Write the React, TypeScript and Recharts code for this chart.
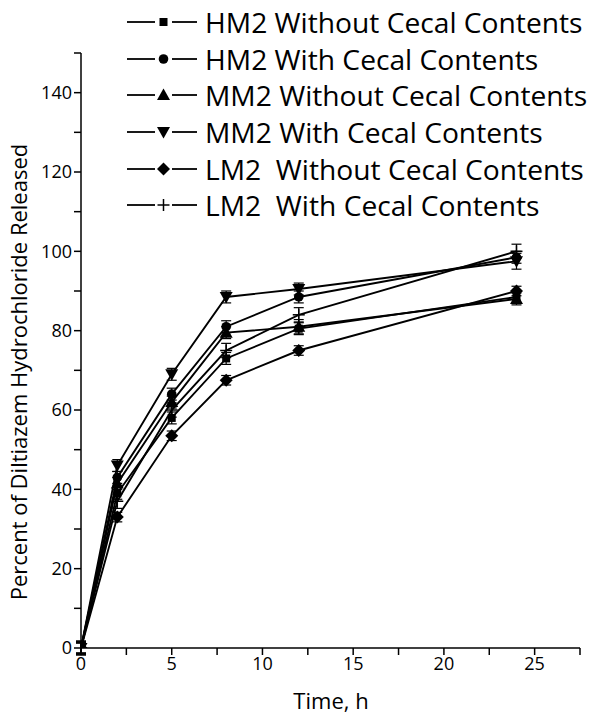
import React from 'react';
import { LineChart, Line, XAxis, YAxis, ErrorBar, Legend } from 'recharts';

const time = [0, 2, 5, 8, 12, 24];
const hm2Without = [0, 39, 58, 73, 80.5, 88.5];
const hm2With = [0, 43, 64, 81, 88.5, 98.5];
const mm2Without = [0, 41.5, 62, 79.5, 81, 88];
const mm2With = [0, 46, 69, 88.5, 90.5, 97.5];
const lm2Without = [0, 33, 53.5, 67.5, 75, 90];
const lm2With = [0, 37, 60, 75, 84, 100];

const hm2WithoutErr = [1.5, 1.5, 1.5, 1.5, 1.5, 1.5];
const hm2WithErr = [1.5, 1.5, 1.5, 1.5, 1.5, 1.5];
const mm2WithoutErr = [1.5, 1.5, 1.5, 1.5, 1.8, 1.5];
const mm2WithErr = [1.5, 1.5, 1.5, 1.5, 1.5, 2];
const lm2WithoutErr = [1.2, 1.2, 1.2, 1.2, 1.2, 1.2];
const lm2WithErr = [1.8, 1.8, 1.8, 1.8, 1.8, 1.8];

const xTicks = [0, 2.5, 5, 7.5, 10, 12.5, 15, 17.5, 20, 22.5, 25, 27.5];
const yTicks = [0, 10, 20, 30, 40, 50, 60, 70, 80, 90, 100, 110, 120, 130, 140, 150];

const FONT = '"Open Sans", sans-serif';

const data = time.map((t, i) => ({
  t,
  hm2Without: hm2Without[i],
  hm2With: hm2With[i],
  mm2Without: mm2Without[i],
  mm2With: mm2With[i],
  lm2Without: lm2Without[i],
  lm2With: lm2With[i],
  hm2WithoutErr: hm2WithoutErr[i],
  hm2WithErr: hm2WithErr[i],
  mm2WithoutErr: mm2WithoutErr[i],
  mm2WithErr: mm2WithErr[i],
  lm2WithoutErr: lm2WithoutErr[i],
  lm2WithErr: lm2WithErr[i],
}));

type Shape = 'square' | 'circle' | 'up' | 'down' | 'diamond' | 'plus';

function Marker({ shape, cx, cy }: { shape: Shape; cx: number; cy: number }) {
  switch (shape) {
    case 'square':
      return <rect x={cx - 4} y={cy - 4} width={8} height={8} fill="#000" />;
    case 'circle':
      return <circle cx={cx} cy={cy} r={4.8} fill="#000" />;
    case 'up':
      return <polygon points={`${cx},${cy - 6.5} ${cx + 6.5},${cy + 5} ${cx - 6.5},${cy + 5}`} fill="#000" />;
    case 'down':
      return <polygon points={`${cx},${cy + 6.5} ${cx + 6.5},${cy - 5} ${cx - 6.5},${cy - 5}`} fill="#000" />;
    case 'diamond':
      return <polygon points={`${cx},${cy - 6.5} ${cx + 6.5},${cy} ${cx},${cy + 6.5} ${cx - 6.5},${cy}`} fill="#000" />;
    case 'plus':
      return (
        <g stroke="#000" strokeWidth={1.5}>
          <line x1={cx - 6} y1={cy} x2={cx + 6} y2={cy} />
          <line x1={cx} y1={cy - 6} x2={cx} y2={cy + 6} />
        </g>
      );
  }
  return null;
}

const series: { key: string; name: string; shape: Shape }[] = [
  { key: 'hm2Without', name: 'HM2 Without Cecal Contents', shape: 'square' },
  { key: 'hm2With', name: 'HM2 With Cecal Contents', shape: 'circle' },
  { key: 'mm2Without', name: 'MM2 Without Cecal Contents', shape: 'up' },
  { key: 'mm2With', name: 'MM2 With Cecal Contents', shape: 'down' },
  { key: 'lm2Without', name: 'LM2  Without Cecal Contents', shape: 'diamond' },
  { key: 'lm2With', name: 'LM2  With Cecal Contents', shape: 'plus' },
];

function LegendContent() {
  return (
    <div style={{ fontFamily: FONT }}>
      {series.map((s) => (
        <div key={s.key} style={{ display: 'flex', alignItems: 'center', height: 36.6 }}>
          <svg width={85} height={36} style={{ flex: 'none' }}>
            <line x1={7} y1={18} x2={35} y2={18} stroke="#000" strokeWidth={1.8} />
            <line x1={52} y1={18} x2={77} y2={18} stroke="#000" strokeWidth={1.8} />
            <Marker shape={s.shape} cx={43.5} cy={18} />
          </svg>
          <span style={{ fontSize: 28.2, whiteSpace: 'pre', color: '#000', lineHeight: '36px' }}>{s.name}</span>
        </div>
      ))}
    </div>
  );
}

const tickStyle = { fontSize: 18, fill: '#000', fontFamily: FONT };

function YTitle() {
  return (
    <text
      x={27}
      y={372}
      transform="rotate(-90, 27, 372)"
      textAnchor="middle"
      style={{ fontSize: 22, fill: '#000', fontFamily: FONT }}
    >
      Percent of Diltiazem Hydrochloride Released
    </text>
  );
}

function XTitle() {
  return (
    <text x={331} y={709} textAnchor="middle" style={{ fontSize: 22, fill: '#000', fontFamily: FONT }}>
      Time, h
    </text>
  );
}

export default function App() {
  return (
    <div style={{ width: 597, height: 717, background: '#fff' }}>
      <style>{`body{margin:0;background:#fff}`}</style>
      <LineChart width={597} height={717} data={data} margin={{ top: 53, right: 17, bottom: 0, left: 0 }}>
        <XAxis
          dataKey="t"
          type="number"
          domain={[0, 27.5]}
          allowDataOverflow
          ticks={xTicks}
          interval={0}
          tickFormatter={(v: number) => (v % 5 === 0 ? String(v) : '')}
          height={69}
          tickSize={7}
          tick={tickStyle}
          axisLine={{ stroke: '#000', strokeWidth: 1.5 }}
          tickLine={{ stroke: '#000', strokeWidth: 1.5 }}
          label={{ content: () => <XTitle /> }}
        />
        <YAxis
          type="number"
          domain={[0, 150]}
          allowDataOverflow
          ticks={yTicks}
          interval={0}
          tickFormatter={(v: number) => (v % 20 === 0 && v <= 140 ? String(v) : '')}
          width={81}
          tickSize={7}
          tick={tickStyle}
          axisLine={{ stroke: '#000', strokeWidth: 1.5 }}
          tickLine={{ stroke: '#000', strokeWidth: 1.5 }}
          label={{ content: () => <YTitle /> }}
        />
        <Legend
          layout="vertical"
          align="center"
          verticalAlign="middle"
          content={<LegendContent />}
          wrapperStyle={{ top: 4, left: 120, width: 480 }}
        />
        {series.map((s) => (
          <Line
            key={s.key}
            dataKey={s.key}
            name={s.name}
            stroke="#000"
            strokeWidth={1.9}
            isAnimationActive={false}
            dot={(p: any) => <Marker key={`${s.key}-${p.index}`} shape={s.shape} cx={p.cx} cy={p.cy} />}
            activeDot={false}
          >
            <ErrorBar dataKey={`${s.key}Err`} direction="y" width={5} stroke="#000" strokeWidth={1.2} />
          </Line>
        ))}
      </LineChart>
    </div>
  );
}
